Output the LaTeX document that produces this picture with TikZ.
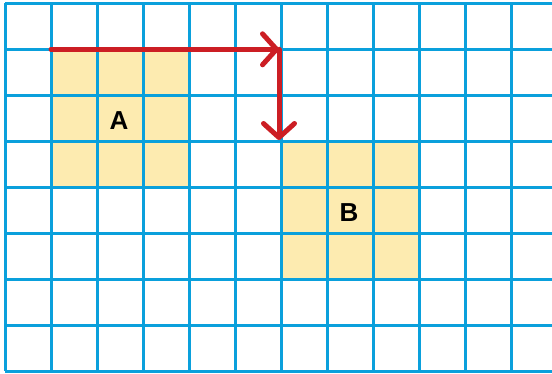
\documentclass[tikz,border=0pt]{standalone}
\usepackage{fontspec}
\setmainfont{Liberation Sans}
\usetikzlibrary{arrows.meta}
\definecolor{gridblue}{RGB}{10,160,220}
\definecolor{sqfill}{RGB}{253,235,176}
\definecolor{arrred}{RGB}{204,30,36}
\tikzset{
  gridline/.style={draw=gridblue, line width=3pt},
  square/.style={fill=sqfill},
  moveline/.style={draw=arrred, line width=5pt, line cap=round,
    -{Straight Barb[length=14pt,width=31pt,round]}},
  label/.style={font=\bfseries\fontsize{26}{26}\selectfont, text=black, inner sep=0pt}
}
\begin{document}
\begin{tikzpicture}[x=1pt,y=-1pt]
\useasboundingbox (0,0) rectangle (552,373);
\fill[white] (0,0) rectangle (552,373);
% squares
\fill[square] (51,49.3) rectangle (189,187.3);
\fill[square] (281,141.3) rectangle (419,279.3);
% grid
\foreach \i in {0,...,11} {
  \draw[gridline] ({5+46*\i},3.3) -- ({5+46*\i},371.3);
}
\foreach \j in {0,...,8} {
  \draw[gridline] (5,{3.3+46*\j}) -- (552,{3.3+46*\j});
}
% arrows
\coordinate (start) at (51,49.3);
\coordinate (corner) at (279,49.3);
\coordinate (end) at (279,140);
\draw[moveline] (start) -- (corner);
\draw[moveline] (corner) -- (end);
% labels
\node[label] (A) at (119,120.3) {A};
\node[label] (B) at (349,212.3) {B};
\end{tikzpicture}
\end{document}
